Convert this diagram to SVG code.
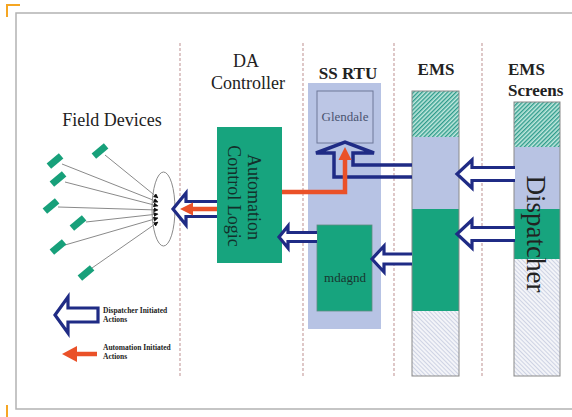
<svg xmlns="http://www.w3.org/2000/svg" width="572" height="417" viewBox="0 0 572 417">
<style>
.hdr{font-family:"Liberation Serif","Times New Roman",serif;fill:#222;}
.bold{font-weight:bold;}
.dash{stroke:#c9a3a3;stroke-width:1.2;stroke-dasharray:3,2;fill:none;}
.hollow{fill:#fff;stroke:#1f2b85;stroke-width:3.2;stroke-linejoin:miter;}
.red{stroke:#ea5128;stroke-width:4.5;fill:none;}
.redf{fill:#ea5128;}
.dev{fill:#17a07a;}
.wire{stroke:#8a8a8a;stroke-width:1;}
.col{stroke:#8a8a8a;stroke-width:1;}
.green{fill:#17a47e;}
.lblue{fill:#b8c3e3;}
.leg{font-family:"Liberation Serif","Times New Roman",serif;font-weight:bold;font-size:7.5px;fill:#222;}
</style>
<defs>
<pattern id="tealHatch" width="3" height="3" patternUnits="userSpaceOnUse" patternTransform="rotate(-45)">
<rect width="3" height="3" fill="#c4e9df"/>
<rect width="3" height="1.4" fill="#2f9c8c"/>
</pattern>
<pattern id="grayHatch" width="3" height="3" patternUnits="userSpaceOnUse" patternTransform="rotate(45)">
<rect width="3" height="3" fill="#f3f4f8"/>
<rect width="3" height="0.8" fill="#c5cbe0"/>
</pattern>
<marker id="blk" markerWidth="5" markerHeight="5" refX="4.5" refY="2.5" orient="auto" markerUnits="userSpaceOnUse">
<path d="M0,0 L5,2.5 L0,5 Z" fill="#111"/>
</marker>
</defs>

<rect width="572" height="417" fill="#fff"/>
<g id="frame">
<path d="M572,13 L16,13 L16,409 L572,409" fill="none" stroke="#b3b3b3" stroke-width="1.5"/>
<path d="M7,17 L7,5 L20,5" fill="none" stroke="#f5a623" stroke-width="2"/>
<path d="M7,405 L7,417" fill="none" stroke="#f5a623" stroke-width="2"/>
</g>

<g id="dividers">
<line class="dash" x1="180" y1="43" x2="180" y2="378"/>
<line class="dash" x1="303" y1="43" x2="303" y2="378"/>
<line class="dash" x1="394" y1="43" x2="394" y2="378"/>
<line class="dash" x1="482" y1="43" x2="482" y2="378"/>
</g>

<g id="headers">
<text class="hdr" x="246" y="67" font-size="18" text-anchor="middle">DA</text>
<text class="hdr" x="248" y="89" font-size="18" text-anchor="middle">Controller</text>
<text class="hdr" x="112" y="126" font-size="18" text-anchor="middle">Field Devices</text>
<text class="hdr bold" x="348" y="79" font-size="17" text-anchor="middle">SS RTU</text>
<text class="hdr bold" x="436" y="75" font-size="17" text-anchor="middle">EMS</text>
<text class="hdr bold" x="508" y="75" font-size="17">EMS</text>
<text class="hdr bold" x="508" y="96" font-size="17">Screens</text>
</g>

<g id="ss-rtu">
<rect x="308" y="83" width="73" height="246" fill="#b7c3e4"/>
</g>

<g id="glendale">
<rect x="317" y="91" width="56" height="52" fill="#bcc6e5" stroke="#6e7898" stroke-width="1"/>
<text x="345" y="121" font-family="Liberation Serif, serif" font-size="13" fill="#4a5470" text-anchor="middle">Glendale</text>
</g>

<g id="mdagnd">
<rect x="317" y="225" width="55" height="86" class="green" stroke="#5f8c80" stroke-width="0.8"/>
<text x="345" y="282" font-family="Liberation Serif, serif" font-size="13" fill="#17362f" text-anchor="middle">mdagnd</text>
</g>

<g id="automation-control-logic">
<rect x="217" y="127" width="65" height="136" class="green"/>
<text transform="translate(248,197) rotate(90)" font-family="Liberation Serif, serif" font-size="18" fill="#13302b" text-anchor="middle">Automation</text>
<text transform="translate(228,196) rotate(90)" font-family="Liberation Serif, serif" font-size="18" fill="#13302b" text-anchor="middle">Control Logic</text>
</g>

<g id="ems">
<rect x="412" y="91" width="47" height="46" fill="url(#tealHatch)"/>
<rect x="412" y="137" width="47" height="72" class="lblue"/>
<rect x="412" y="209" width="47" height="102" class="green"/>
<rect x="412" y="311" width="47" height="65" fill="url(#grayHatch)"/>
<rect x="412" y="91" width="47" height="285" fill="none" class="col"/>
</g>

<g id="ems-screens">
<rect x="514" y="102" width="46" height="45" fill="url(#tealHatch)"/>
<rect x="514" y="147" width="46" height="62" class="lblue"/>
<rect x="514" y="209" width="46" height="50" class="green"/>
<rect x="514" y="259" width="46" height="117" fill="url(#grayHatch)"/>
<rect x="514" y="102" width="46" height="274" fill="none" class="col"/>
<text transform="translate(527,234) rotate(90)" font-family="Liberation Serif, serif" font-size="27" fill="#222" text-anchor="middle">Dispatcher</text>
</g>

<g id="field-devices">
<g class="wire">
<line x1="105" y1="155" x2="158" y2="198" marker-end="url(#blk)"/>
<line x1="62" y1="164" x2="158" y2="202" marker-end="url(#blk)"/>
<line x1="65" y1="182" x2="158" y2="206" marker-end="url(#blk)"/>
<line x1="58" y1="207" x2="158" y2="210" marker-end="url(#blk)"/>
<line x1="86" y1="222" x2="158" y2="214" marker-end="url(#blk)"/>
<line x1="65" y1="245" x2="158" y2="218" marker-end="url(#blk)"/>
<line x1="92" y1="268" x2="158" y2="222" marker-end="url(#blk)"/>
</g>
<rect class="dev" x="-8" y="-3.5" width="16" height="7" transform="translate(100,151) rotate(-40)"/>
<rect class="dev" x="-8" y="-3.5" width="16" height="7" transform="translate(55,161) rotate(-40)"/>
<rect class="dev" x="-8" y="-3.5" width="16" height="7" transform="translate(58,179) rotate(-40)"/>
<rect class="dev" x="-8" y="-3.5" width="16" height="7" transform="translate(51,206) rotate(-40)"/>
<rect class="dev" x="-8" y="-3.5" width="16" height="7" transform="translate(78,223) rotate(-40)"/>
<rect class="dev" x="-8" y="-3.5" width="16" height="7" transform="translate(58,247) rotate(-40)"/>
<rect class="dev" x="-8" y="-3.5" width="16" height="7" transform="translate(86,273) rotate(-40)"/>
<ellipse cx="163.5" cy="209" rx="11.5" ry="37" fill="none" stroke="#8a8a8a" stroke-width="1"/>
</g>

<g id="connectors">
<path class="hollow" d="M515,167.5 L472,167.5 L472,160 L457,174 L472,188 L472,180.5 L515,180.5"/>
<path class="hollow" d="M515,227.5 L472,227.5 L472,220 L457,234 L472,248 L472,240.5 L515,240.5"/>
<path class="hollow" d="M412,254 L384,254 L384,246 L372,259 L384,272 L384,264 L412,264"/>
<path class="hollow" d="M317,232.5 L288,232.5 L288,226 L279,237 L288,248 L288,241.5 L317,241.5"/>
<path class="hollow" d="M217,201.5 L186,201.5 L186,193 L173,209 L186,225 L186,216.5 L217,216.5"/>
<line class="red" x1="217" y1="209" x2="190" y2="209"/>
<polygon class="redf" points="180,209 193,202.5 193,215.5"/>
<path d="M412,165 L353,165 L353,153 L374,153 L345,142 L316,153 L334,153 L334,177 L412,177" fill="none" stroke="#1f2b85" stroke-width="3.5"/>
<path class="red" d="M282,192 L345,192 L345,158"/>
<polygon class="redf" points="338.5,160 351.5,160 345,147"/>
</g>

<g id="legend">
<path class="hollow" d="M98,308 L68,308 L68,297 L55,315 L68,333 L68,322 L98,322 Z"/>
<text class="leg" x="103" y="313">Dispatcher Initiated</text>
<text class="leg" x="103" y="322">Actions</text>
<line class="red" x1="97" y1="354" x2="74" y2="354" stroke-width="5"/>
<polygon class="redf" points="62,354 77,346 77,362"/>
<text class="leg" x="103" y="350">Automation Initiated</text>
<text class="leg" x="103" y="359">Actions</text>
</g>
</svg>
